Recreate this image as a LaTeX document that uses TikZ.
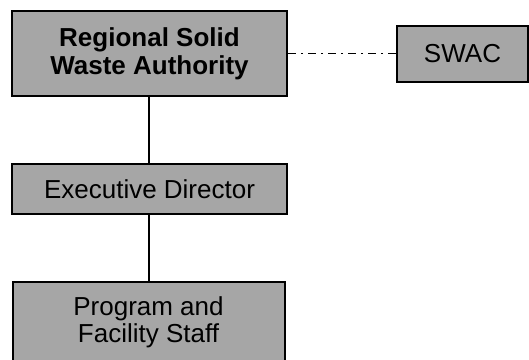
\documentclass[tikz,border=0pt]{standalone}
\usepackage{fontspec}
\setmainfont{Liberation Sans}
\tikzset{
  orgbox/.style={draw=black,line width=2pt,fill=black!35,inner sep=0pt,align=center,
    font=\fontsize{26}{27}\selectfont},
  link/.style={line width=2pt},
  advisory/.style={line width=1.6pt,dash pattern=on 8pt off 5pt on 2pt off 5pt}
}
\begin{document}
\begin{tikzpicture}[x=1pt,y=-1pt]
\clip (0,0) rectangle (529,359);
\fill[white] (0,0) rectangle (529,359);
\node[orgbox,font=\fontsize{26}{28}\selectfont\bfseries,minimum width=275pt,minimum height=85pt] (rswa) at (149.5,53.5) {Regional Solid\\Waste Authority};
\node[orgbox,minimum width=131pt,minimum height=56pt] (swac) at (462.5,53.5) {SWAC};
\node[orgbox,minimum width=275pt,minimum height=50pt] (exec) at (149.5,189) {Executive Director};
\node[orgbox,minimum width=272pt,minimum height=80pt] (staff) at (148.5,322) {Program and\\Facility Staff};
\draw[link] (rswa.south-|staff)--(exec.north-|staff);\draw[link] (exec.south-|staff)--(staff);
\draw[advisory] (rswa)--(swac);
\end{tikzpicture}
\end{document}
